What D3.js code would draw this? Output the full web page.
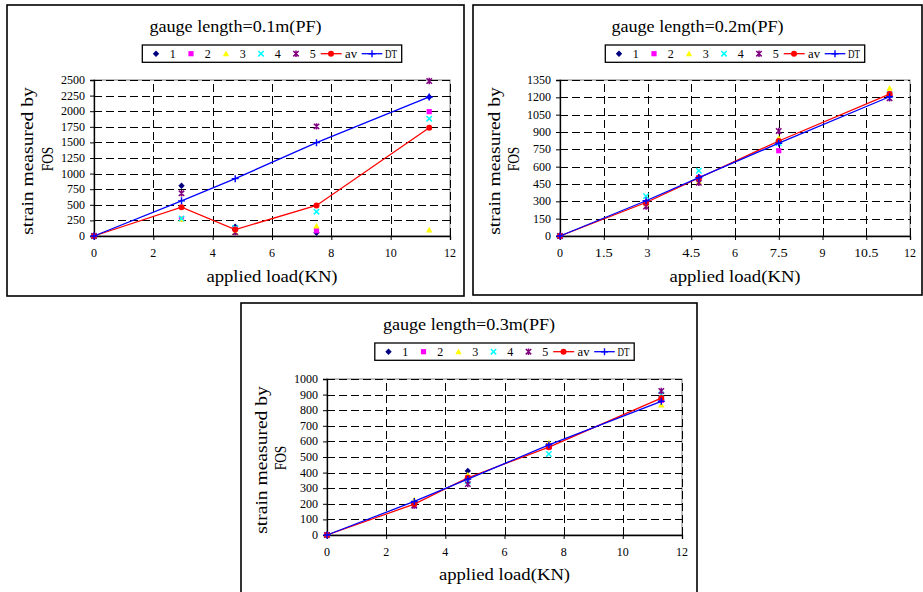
<!DOCTYPE html>
<html>
<head>
<meta charset="utf-8">
<script src="https://cdn.jsdelivr.net/npm/d3@7"></script>
<style>
  html, body { margin: 0; padding: 0; background: #fff; }
  svg { display: block; }
</style>
</head>
<body>
<script>
// ---------- data ----------
const loads = [0, 2.95, 4.76, 7.5, 11.3];
const seriesNames = ["1", "2", "3", "4", "5", "av", "DT"];

const titles = ["gauge length=0.1m(PF)", "gauge length=0.2m(PF)", "gauge length=0.3m(PF)"];
const xTitle = "applied load(KN)";
const yTitle1 = "strain measured by";
const yTitle2 = "FOS";

const xTicks1 = [0, 2, 4, 6, 8, 10, 12];
const xTicks2 = [0, 1.5, 3, 4.5, 6, 7.5, 9, 10.5, 12];
const xTicks3 = [0, 2, 4, 6, 8, 10, 12];
const yTicks1 = [0, 250, 500, 750, 1000, 1250, 1500, 1750, 2000, 2250, 2500];
const yTicks2 = [0, 150, 300, 450, 600, 750, 900, 1050, 1200, 1350];
const yTicks3 = [0, 100, 200, 300, 400, 500, 600, 700, 800, 900, 1000];

// gauge length 0.1 m
const p1_s1 = [0, 806, 150, 53, 2228];
const p1_s2 = [0, 272, 120, 85, 1993];
const p1_s3 = [0, 268, 55, 160, 96];
const p1_s4 = [0, 280, 130, 390, 1880];
const p1_s5 = [0, 684, 60, 1757, 2484];
const p1_av = [0, 462, 103, 489, 1736];
const p1_dt = [0, 563, 919, 1496, 2228];

// gauge length 0.2 m
const p2_s1 = [0, 290, 510, 815, 1215];
const p2_s2 = [0, 280, 505, 738, 1230];
const p2_s3 = [0, 280, 470, 845, 1278];
const p2_s4 = [0, 345, 565, 805, 1225];
const p2_s5 = [0, 255, 460, 909, 1191];
const p2_av = [0, 290, 502, 822, 1228];
const p2_dt = [0, 305, 505, 803, 1205];

// gauge length 0.3 m
const p3_s1 = [0, 200, 411, 570, 870];
const p3_s2 = [0, 188, 369, 565, 863];
const p3_s3 = [0, 224, 384, 592, 834];
const p3_s4 = [0, 190, 345, 519, 900];
const p3_s5 = [0, 188, 326, 570, 923];
const p3_av = [0, 198, 367, 563, 878];
const p3_dt = [0, 215, 358, 578, 857];

// ---------- styles ----------
const colors = ["#000080", "#FF00FF", "#FFFF00", "#00FFFF", "#800080", "#FF0000", "#0000FF"];
const FONT = "'Liberation Serif', 'DejaVu Serif', serif";
const TITLE_ADV = 8.2, SMALL_ADV = 6;

const W = 923, H = 592;
const svg = d3.select("body").append("svg").attr("width", W).attr("height", H);

function txt(g, s, x, y, size, adv, anchor, rotate) {
  const t = g.append("text")
    .attr("x", x).attr("y", y)
    .attr("font-family", FONT)
    .attr("font-size", size)
    .attr("fill", "#000")
    .attr("text-anchor", anchor || "middle")
    .attr("dominant-baseline", "central")
    .attr("textLength", s.length * adv)
    .attr("lengthAdjust", "spacingAndGlyphs")
    .text(s);
  if (rotate) t.attr("transform", `rotate(-90,${x},${y})`);
  return t;
}

function marker(g, i, x, y) {
  const c = colors[i];
  const m = g.append("g").attr("transform", `translate(${x},${y})`);
  if (i === 0) m.append("path").attr("d", "M0,-3.2L3.2,0L0,3.2L-3.2,0Z").attr("fill", c);
  else if (i === 1) m.append("path").attr("d", "M-2.6,-2.6h5.2v5.2h-5.2Z").attr("fill", c);
  else if (i === 2) m.append("path").attr("d", "M0,-3.3L3.2,2.5L-3.2,2.5Z").attr("fill", c);
  else if (i === 3) m.append("path").attr("d", "M-2.7,-2.7L2.7,2.7M2.7,-2.7L-2.7,2.7").attr("stroke", c).attr("stroke-width", 1.5).attr("fill", "none");
  else if (i === 4) m.append("path").attr("d", "M-2.7,-2.7L2.7,2.7M2.7,-2.7L-2.7,2.7M0,-3.2V3.2").attr("stroke", c).attr("stroke-width", 1.5).attr("fill", "none");
  else if (i === 5) m.append("circle").attr("r", 3).attr("fill", c);
  else if (i === 6) m.append("path").attr("d", "M-3.5,0H3.5M0,-3.5V3.5").attr("stroke", c).attr("stroke-width", 1.4).attr("fill", "none");
}

function panel(cfg) {
  const g = svg.append("g");
  g.append("rect").attr("x", cfg.box[0]).attr("y", cfg.box[1]).attr("width", cfg.box[2]).attr("height", cfg.box[3])
    .attr("fill", "#fff").attr("stroke", "#000").attr("stroke-width", 1.6);

  const [L, R, T, B] = cfg.plot;
  const x = d3.scaleLinear().domain([0, 12]).range([L, R]);
  const y = d3.scaleLinear().domain([0, cfg.yTicks[cfg.yTicks.length - 1]]).range([B, T]);

  txt(g, cfg.title, cfg.box[0] + cfg.box[2] / 2, cfg.titleY, 16, TITLE_ADV);

  g.append("rect").attr("x", L).attr("y", T).attr("width", R - L).attr("height", B - T)
    .attr("fill", "none").attr("stroke", "#808080").attr("stroke-width", 1);

  const grid = g.append("g").attr("stroke", "#000").attr("stroke-width", 1).attr("stroke-dasharray", "8,4");
  cfg.yTicks.slice(1).forEach(v => {
    const yy = Math.round(y(v)) + 0.5;
    grid.append("line").attr("x1", L).attr("x2", R).attr("y1", yy).attr("y2", yy);
  });
  cfg.xTicks.slice(1).forEach(v => {
    const xx = Math.round(x(v)) + 0.5;
    grid.append("line").attr("y1", B).attr("y2", T).attr("x1", xx).attr("x2", xx);
  });

  const xa = d3.axisBottom(x).tickValues(cfg.xTicks).tickSize(4).tickFormat(() => "");
  const ya = d3.axisLeft(y).tickValues(cfg.yTicks).tickSize(4).tickFormat(() => "");
  const gx = g.append("g").attr("transform", `translate(0,${B})`).call(xa);
  const gy = g.append("g").attr("transform", `translate(${L},0)`).call(ya);
  [gx, gy].forEach(a => {
    a.select(".domain").attr("stroke", "#000").attr("stroke-width", 1.3);
    a.selectAll(".tick line").attr("stroke", "#000");
  });
  cfg.xTicks.forEach(v => txt(g, String(v), x(v), cfg.xLabY, 12.5, SMALL_ADV));
  cfg.yTicks.forEach(v => txt(g, String(v), L - 9, y(v), 12.5, SMALL_ADV, "end"));

  txt(g, xTitle, (L + R) / 2, cfg.xTitleY, 16, TITLE_ADV);
  txt(g, yTitle1, cfg.yT1x, (T + B) / 2 + 3, 16, TITLE_ADV, "middle", true);
  txt(g, yTitle2, cfg.yT2x, (T + B) / 2 + 1, 16, TITLE_ADV, "middle", true);

  cfg.series.forEach((vals, i) => {
    if (i >= 5) {
      const line = d3.line().x((d, k) => x(loads[k])).y(d => y(d));
      g.append("path").datum(vals).attr("d", line).attr("fill", "none")
        .attr("stroke", colors[i]).attr("stroke-width", 1.3);
    }
    vals.forEach((v, k) => marker(g, i, x(loads[k]), y(v)));
  });

  const lx = (L + R) / 2 - 129.7, ly = cfg.legY;
  g.append("rect").attr("x", lx).attr("y", ly).attr("width", 259.4).attr("height", 17.3)
    .attr("fill", "#fff").attr("stroke", "#000").attr("stroke-width", 1.3);
  const cy = ly + 8.7;
  for (let i = 0; i < 5; i++) {
    marker(g, i, lx + 13.7 + 35 * i, cy);
    txt(g, seriesNames[i], lx + 30.4 + 35 * i, cy, 12.5, SMALL_ADV);
  }
  [[5, 178.4, 199.4, 188.7, 202.7], [6, 219.4, 240, 229.7, 242.7]].forEach(([i, a, b, m, t]) => {
    g.append("line").attr("x1", lx + a).attr("x2", lx + b).attr("y1", cy).attr("y2", cy)
      .attr("stroke", colors[i]).attr("stroke-width", 1.3);
    marker(g, i, lx + m, cy);
    txt(g, seriesNames[i], lx + t, cy, 12.5, SMALL_ADV, "start");
  });
}

panel({
  box: [7, 5, 457, 291], plot: [94, 450, 80, 236], title: titles[0], titleY: 26,
  xTicks: xTicks1, yTicks: yTicks1, xLabY: 253, xTitleY: 276, yT1x: 27, yT2x: 47, legY: 45,
  series: [p1_s1, p1_s2, p1_s3, p1_s4, p1_s5, p1_av, p1_dt]
});
panel({
  box: [473, 5, 449, 290], plot: [560, 910, 80, 236], title: titles[1], titleY: 26,
  xTicks: xTicks2, yTicks: yTicks2, xLabY: 253, xTitleY: 276, yT1x: 494, yT2x: 513, legY: 45,
  series: [p2_s1, p2_s2, p2_s3, p2_s4, p2_s5, p2_av, p2_dt]
});
panel({
  box: [241, 303, 456, 294], plot: [327, 682, 379, 535], title: titles[2], titleY: 324,
  xTicks: xTicks3, yTicks: yTicks3, xLabY: 552, xTitleY: 574, yT1x: 261, yT2x: 280, legY: 343,
  series: [p3_s1, p3_s2, p3_s3, p3_s4, p3_s5, p3_av, p3_dt]
});
</script>
</body>
</html>
